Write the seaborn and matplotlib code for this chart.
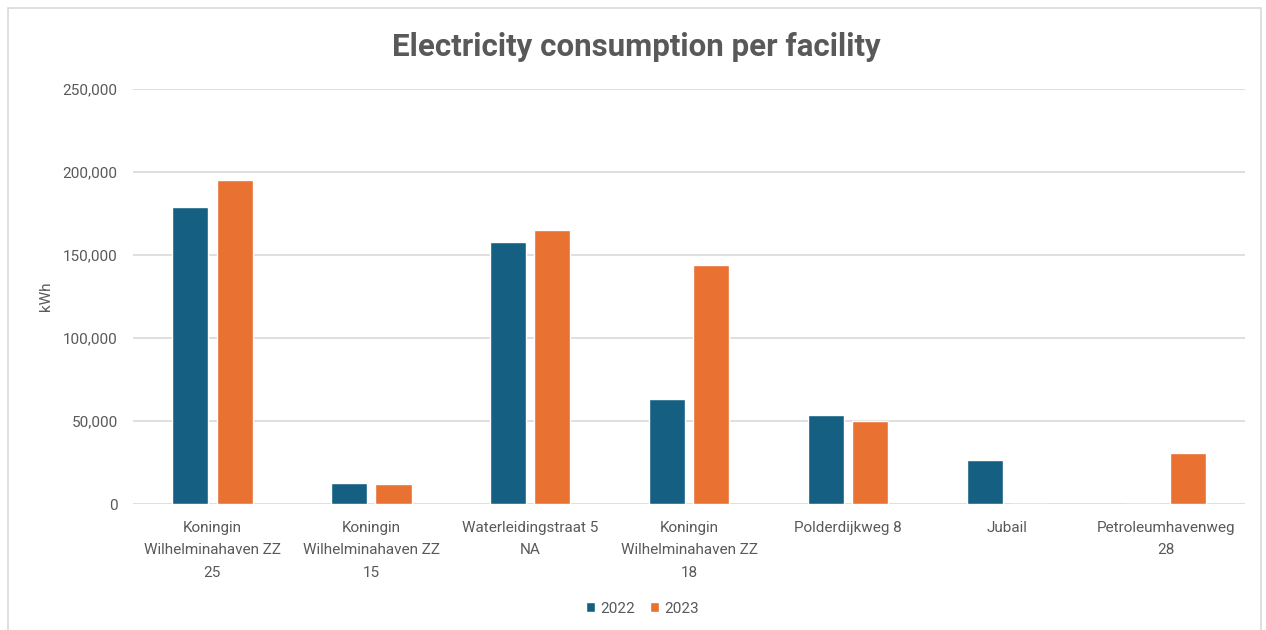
import matplotlib
matplotlib.use("Agg")
import matplotlib.pyplot as plt
import matplotlib.ticker as mticker
from matplotlib.patches import Rectangle
import seaborn as sns
import pandas as pd

facilities = [
    "Koningin\nWilhelminahaven ZZ\n25",
    "Koningin\nWilhelminahaven ZZ\n15",
    "Waterleidingstraat 5\nNA",
    "Koningin\nWilhelminahaven ZZ\n18",
    "Polderdijkweg 8",
    "Jubail",
    "Petroleumhavenweg\n28",
]
years = ["2022", "2023"]
values_2022 = [179100, 12700, 157800, 63300, 53800, 26300, 0]
values_2023 = [195200, 12000, 165100, 144000, 49800, 0, 30700]
y_ticks = [0, 50000, 100000, 150000, 200000, 250000]

colors = {"2022": "#156082", "2023": "#E97132"}
text_color = "#595959"

df = pd.DataFrame({
    "facility": facilities * 2,
    "year": [years[0]] * len(facilities) + [years[1]] * len(facilities),
    "kWh": values_2022 + values_2023,
})

sns.set_theme(style="white")
plt.rcParams["font.family"] = ["Roboto", "DejaVu Sans"]

fig = plt.figure(figsize=(12.66, 6.3), dpi=100)
fig.patch.set_facecolor("white")
ax = fig.add_axes([0.105, 0.2, 0.8785, 0.6587])

sns.barplot(data=df, x="facility", y="kWh", hue="year", palette=colors,
            order=facilities, hue_order=years, width=0.56, gap=0.19,
            saturation=1, ax=ax, legend=True, zorder=3)

ax.set_ylim(0, 250000)
ax.set_yticks(y_ticks)
ax.yaxis.set_major_formatter(mticker.FuncFormatter(lambda v, p: f"{int(v):,}"))
ax.grid(axis="y", color="#d9d9d9", linewidth=1.2, zorder=0)
ax.set_axisbelow(True)
for s in ax.spines.values():
    s.set_visible(False)
ax.tick_params(axis="both", length=0, labelsize=11, labelcolor=text_color)
ax.tick_params(axis="y", pad=11)
ax.tick_params(axis="x", pad=12)
for lab in ax.get_xticklabels():
    lab.set_linespacing(1.8)
ax.set_xlabel("")
ax.set_ylabel("kWh", color=text_color, fontsize=11)
ax.yaxis.set_label_coords(-0.072, 0.5)

leg = ax.legend(loc="lower center", bbox_to_anchor=(0.458, -0.302), ncol=2,
                frameon=False, fontsize=11, handlelength=0.6, handleheight=0.6,
                handletextpad=0.3, columnspacing=1.0, labelcolor=text_color)

fig.text(0.503, 0.926, "Electricity consumption per facility", ha="center",
         va="center", fontsize=22.5, fontweight="bold", color=text_color,
         family=["Roboto", "DejaVu Sans"])

fig.add_artist(Rectangle((8 / 1266, -0.05), 1253 / 1266, 1.05 - 8 / 630,
                         transform=fig.transFigure, fill=False,
                         edgecolor="#d9d9d9", linewidth=1.2))

fig.savefig("out.png", dpi=100, facecolor="white")
